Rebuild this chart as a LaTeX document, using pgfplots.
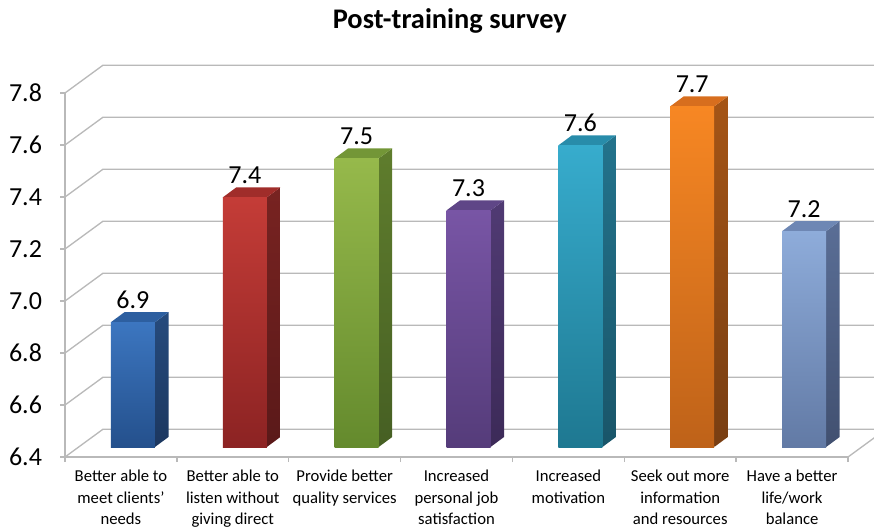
\documentclass[border=0pt]{standalone}
\usepackage{fontspec}
\setmainfont{Carlito}
\usepackage{pgfplots}
\pgfplotsset{compat=1.18}

\definecolor{gridgray}{RGB}{185,185,185}
% front top / front bottom / side top / side bottom / top face
\definecolor{bFT}{RGB}{60,118,192}\definecolor{bFB}{RGB}{36,80,140}\definecolor{bST}{RGB}{38,75,125}\definecolor{bSB}{RGB}{28,55,95}\definecolor{bTP}{RGB}{45,95,160}
\definecolor{rFT}{RGB}{196,60,55}\definecolor{rFB}{RGB}{140,35,35}\definecolor{rST}{RGB}{120,35,33}\definecolor{rSB}{RGB}{90,25,25}\definecolor{rTP}{RGB}{160,45,42}
\definecolor{gFT}{RGB}{150,185,75}\definecolor{gFB}{RGB}{100,138,45}\definecolor{gST}{RGB}{95,125,45}\definecolor{gSB}{RGB}{70,95,35}\definecolor{gTP}{RGB}{115,150,55}
\definecolor{pFT}{RGB}{120,85,165}\definecolor{pFB}{RGB}{85,60,122}\definecolor{pST}{RGB}{80,58,115}\definecolor{pSB}{RGB}{60,42,88}\definecolor{pTP}{RGB}{95,70,135}
\definecolor{tFT}{RGB}{55,172,205}\definecolor{tFB}{RGB}{30,120,145}\definecolor{tST}{RGB}{35,115,140}\definecolor{tSB}{RGB}{25,85,105}\definecolor{tTP}{RGB}{40,140,170}
\definecolor{oFT}{RGB}{247,135,35}\definecolor{oFB}{RGB}{190,98,25}\definecolor{oST}{RGB}{165,85,22}\definecolor{oSB}{RGB}{120,62,18}\definecolor{oTP}{RGB}{215,110,30}
\definecolor{lFT}{RGB}{142,172,218}\definecolor{lFB}{RGB}{98,122,165}\definecolor{lST}{RGB}{90,110,150}\definecolor{lSB}{RGB}{65,80,112}\definecolor{lTP}{RGB}{110,135,180}

\pgfplotsset{
  wall/.style={draw=gridgray, line width=1pt},
  front/.style 2 args={ybar, bar width=33pt, bar shift=0pt, draw=none, top color=#1, bottom color=#2,
    nodes near coords, point meta=explicit symbolic,
    every node near coord/.append style={font=\fontsize{19.5}{19.5}\selectfont, anchor=base, yshift=10.5pt, inner sep=0pt, text=black}},
  side/.style 2 args={draw=none, top color=#1, bottom color=#2},
  topf/.style={draw=none, fill=#1},
}

\begin{document}
\begin{tikzpicture}
% ---------- front plane: walls, ticks, labels ----------
\begin{axis}[
  at={(0pt,0pt)}, anchor=south west,
  scale only axis, width=587.25pt, height=273pt,
  xmin=-0.5, xmax=6.5, ymin=6.4, ymax=7.8,
  clip=false,
  axis x line*=bottom, axis y line*=left,
  axis line style={draw=gridgray, line width=1pt, -},
  tick align=outside,
  major tick length=3.75pt,
  tick style={draw=gridgray, line width=1pt},
  xtick={-0.5,0.5,1.5,2.5,3.5,4.5,5.5,6.5},
  x tick label as interval,
  xticklabels={{Better able to\\meet clients'\\needs},
               {Better able to\\listen without\\giving direct},
               {Provide better\\quality services},
               {Increased\\personal job\\satisfaction},
               {Increased\\motivation},
               {Seek out more\\information\\and resources},
               {Have a better\\life/work\\balance}},
  xticklabel style={align=center, font=\fontsize{12.5}{16.2}\selectfont, anchor=north, yshift=-2.5pt},
  ytick={6.4,6.6,6.8,7.0,7.2,7.4,7.6,7.8},
  yticklabels={6.4,6.6,6.8,7.0,7.2,7.4,7.6,7.8},
  yticklabel style={font=\fontsize{19.5}{19.5}\selectfont, anchor=east, xshift=-10pt},
  title={Post-training survey},
  title style={font=\bfseries\fontsize{21.3}{21.3}\selectfont, at={(0.4915,1)}, anchor=base, yshift=42.3pt},
]
\addplot[wall] coordinates {(-0.5,6.4) (-0.16,6.507) (6.74,6.507)};
\addplot[wall] coordinates {(-0.5,6.6) (-0.16,6.707) (6.74,6.707)};
\addplot[wall] coordinates {(-0.5,6.8) (-0.16,6.907) (6.74,6.907)};
\addplot[wall] coordinates {(-0.5,7.0) (-0.16,7.107) (6.74,7.107)};
\addplot[wall] coordinates {(-0.5,7.2) (-0.16,7.307) (6.74,7.307)};
\addplot[wall] coordinates {(-0.5,7.4) (-0.16,7.507) (6.74,7.507)};
\addplot[wall] coordinates {(-0.5,7.6) (-0.16,7.707) (6.74,7.707)};
\addplot[wall] coordinates {(-0.5,7.8) (-0.16,7.907) (6.74,7.907)};
\addplot[wall] coordinates {(6.5,6.4) (6.74,6.4755)};
\end{axis}

% ---------- bar plane ----------
\begin{axis}[
  at={(9pt,7.5pt)}, anchor=south west,
  scale only axis, width=587.25pt, height=273pt,
  xmin=-0.5, xmax=6.5, ymin=6.4, ymax=7.8,
  y coord trafo/.code={\pgfmathparse{#1-6.4}},
  y coord inv trafo/.code={\pgfmathparse{#1+6.4}},
  hide axis, clip=false,
]
% 1 blue
\addplot[side={bST}{bSB}] coordinates {(0.197,6.4) (0.318,6.4385) (0.318,6.9185) (0.197,6.88)} --cycle;
\addplot[topf=bTP] coordinates {(-0.197,6.88) (0.197,6.88) (0.318,6.9185) (-0.076,6.9185)} --cycle;
\addplot[front={bFT}{bFB}] coordinates {(0,6.88) [6.9]};
% 2 red
\addplot[side={rST}{rSB}] coordinates {(1.197,6.4) (1.318,6.4385) (1.318,7.3985) (1.197,7.36)} --cycle;
\addplot[topf=rTP] coordinates {(0.803,7.36) (1.197,7.36) (1.318,7.3985) (0.924,7.3985)} --cycle;
\addplot[front={rFT}{rFB}] coordinates {(1,7.36) [7.4]};
% 3 green
\addplot[side={gST}{gSB}] coordinates {(2.197,6.4) (2.318,6.4385) (2.318,7.5485) (2.197,7.51)} --cycle;
\addplot[topf=gTP] coordinates {(1.803,7.51) (2.197,7.51) (2.318,7.5485) (1.924,7.5485)} --cycle;
\addplot[front={gFT}{gFB}] coordinates {(2,7.51) [7.5]};
% 4 purple
\addplot[side={pST}{pSB}] coordinates {(3.197,6.4) (3.318,6.4385) (3.318,7.3485) (3.197,7.31)} --cycle;
\addplot[topf=pTP] coordinates {(2.803,7.31) (3.197,7.31) (3.318,7.3485) (2.924,7.3485)} --cycle;
\addplot[front={pFT}{pFB}] coordinates {(3,7.31) [7.3]};
% 5 teal
\addplot[side={tST}{tSB}] coordinates {(4.197,6.4) (4.318,6.4385) (4.318,7.5985) (4.197,7.56)} --cycle;
\addplot[topf=tTP] coordinates {(3.803,7.56) (4.197,7.56) (4.318,7.5985) (3.924,7.5985)} --cycle;
\addplot[front={tFT}{tFB}] coordinates {(4,7.56) [7.6]};
% 6 orange
\addplot[side={oST}{oSB}] coordinates {(5.197,6.4) (5.318,6.4385) (5.318,7.7485) (5.197,7.71)} --cycle;
\addplot[topf=oTP] coordinates {(4.803,7.71) (5.197,7.71) (5.318,7.7485) (4.924,7.7485)} --cycle;
\addplot[front={oFT}{oFB}] coordinates {(5,7.71) [7.7]};
% 7 light blue
\addplot[side={lST}{lSB}] coordinates {(6.197,6.4) (6.318,6.4385) (6.318,7.2685) (6.197,7.23)} --cycle;
\addplot[topf=lTP] coordinates {(5.803,7.23) (6.197,7.23) (6.318,7.2685) (5.924,7.2685)} --cycle;
\addplot[front={lFT}{lFB}] coordinates {(6,7.23) [7.2]};
\end{axis}
\pgfresetboundingbox
\path[use as bounding box] (-48.75pt,-54pt) rectangle (606.75pt,342.75pt);
\end{tikzpicture}
\end{document}
